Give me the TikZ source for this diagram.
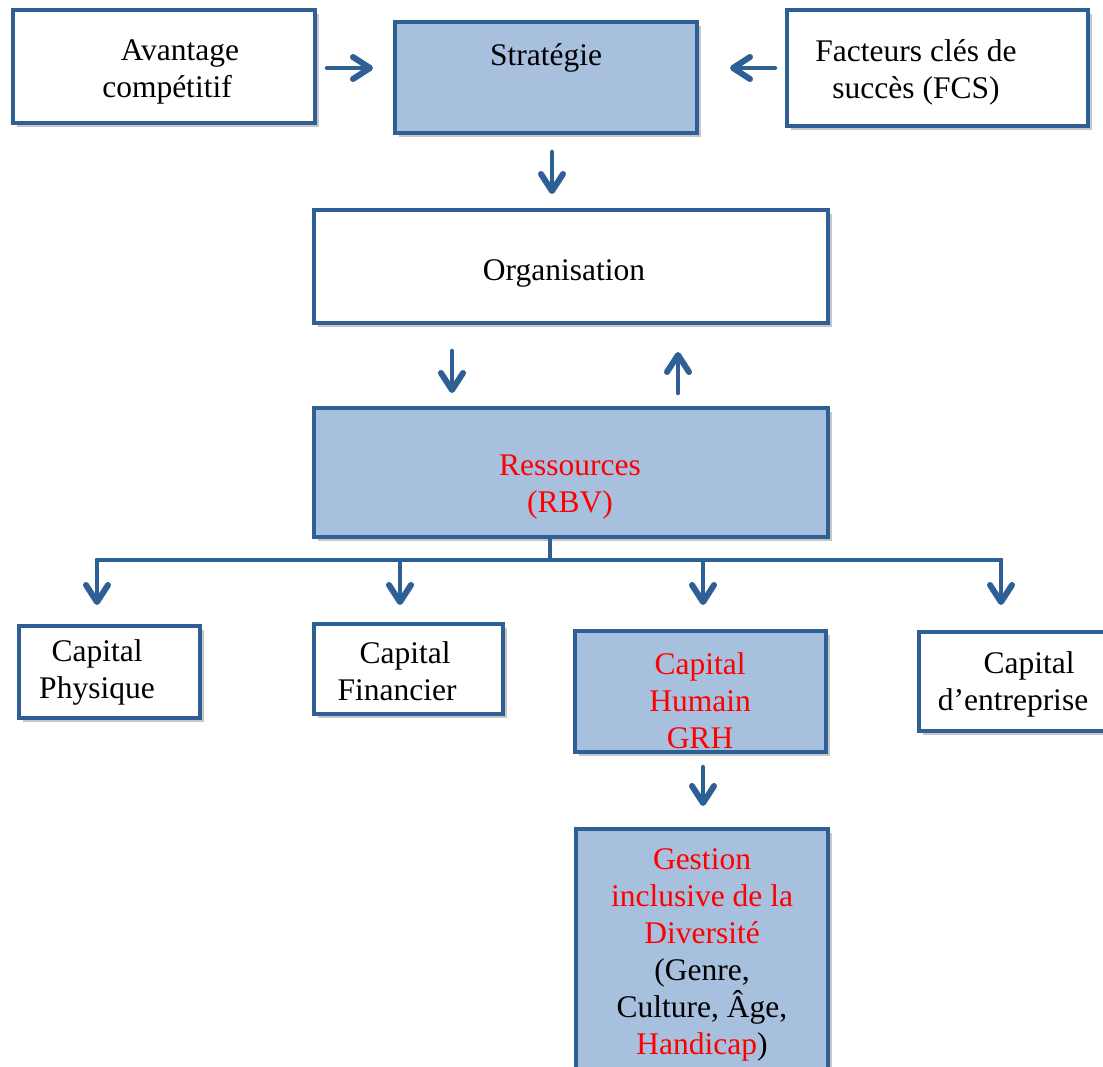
\documentclass[tikz,border=0pt]{standalone}
\usepackage{fontspec}
\setmainfont{Liberation Serif}
\usetikzlibrary{arrows.meta,shadows}
\definecolor{edge}{RGB}{46,96,150}
\definecolor{pane}{RGB}{167,192,222}
\begin{document}
\begin{tikzpicture}[x=1pt,y=-1pt,
  box/.style={draw=edge, line width=4pt, fill=white, inner sep=0pt,
    drop shadow={shadow xshift=4pt, shadow yshift=-4pt, opacity=0.22, fill=black}},
  filled/.style={box, fill=pane},
  txt/.style={font=\fontsize{31.5}{37}\selectfont, align=center, inner sep=0pt},
  arr/.style={draw=edge, line width=4.5pt, line cap=round,
    -{Straight Barb[length=17pt,width=22pt,round,line width=6pt]}},
  wire/.style={draw=edge, line width=4.5pt}]
\useasboundingbox (0,0) rectangle (1103,1066);
\fill[white] (0,0) rectangle (1103,1066);

% top row
\node[box, minimum width=302, minimum height=113] (avant) at (164,66.5) {};
\node[txt] (avant-t) at (180,72) {Avantage\\compétitif\hspace*{26pt}};
\node[filled, minimum width=302, minimum height=111] (strat) at (546,77.5) {};
\node[txt] (strat-t) at (546,58) {Stratégie};
\node[box, minimum width=301, minimum height=116] (fcs) at (937.5,68) {};
\node[txt] (fcs-t) at (916,72) {Facteurs clés de\\succès (FCS)};

% organisation and resources
\node[box, minimum width=514, minimum height=113] (org) at (571,266.5) {};
\node[txt] (org-t) at (564,273) {Organisation};
\node[filled, minimum width=514, minimum height=129] (res) at (571,472.5) {};
\node[txt, text=red] (res-t) at (570,487) {Ressources\\(RBV)};

% capitals
\node[box, minimum width=181, minimum height=92] (phys) at (109.5,672) {};
\node[txt] (phys-t) at (97,672) {Capital\\Physique};
\node[box, minimum width=189, minimum height=90] (fin) at (408.5,669) {};
\node[txt] (fin-t) at (397,671) {\hspace*{16pt}Capital\\Financier};
\node[filled, minimum width=251, minimum height=121] (hum) at (700.5,691.5) {};
\node[txt, text=red] (hum-t) at (700,701) {Capital\\Humain\\GRH};
\node[box, minimum width=222, minimum height=99] (entr) at (1030,681.5) {};
\node[txt] (entr-t) at (1013,684) {\hspace*{32pt}Capital\\d’entreprise};

% diversity management
\node[filled, minimum width=252, minimum height=249] (gest) at (702,953.5) {};
\node[txt] (gest-t) at (702,955) {\textcolor{red}{Gestion}\\\textcolor{red}{inclusive de la}\\\textcolor{red}{Diversité}\\(Genre,\\Culture, Âge,\\\textcolor{red}{Handicap})};

% connectors between the top boxes
\draw[arr, shorten <=10pt, shorten >=20pt] ([yshift=-1.5pt]avant.east) -- ([yshift=-1.5pt]avant.east -| strat.west);
\draw[arr, shorten <=10pt, shorten >=31pt] (fcs.west) -- (fcs.west -| strat.east);
\draw[arr, shorten <=17pt, shorten >=14pt] ([xshift=6pt]strat.south) -- ([xshift=6pt]strat.south |- org.north);

% organisation <-> resources
\draw[arr, shorten <=26pt, shorten >=13pt] ([xshift=-119pt]org.south) -- ([xshift=-119pt]org.south |- res.north);
\draw[arr, shorten <=13pt, shorten >=27pt] ([xshift=107pt]res.north) -- ([xshift=107pt]res.north |- org.south);

% distribution bus from resources to the capitals
\coordinate (jn) at (550,560);
\coordinate (b1) at (97,560);
\coordinate (b2) at (400,560);
\coordinate (b3) at (703,560);
\coordinate (b4) at (1001,560);
\draw[wire] (jn |- res.south) -- (jn);
\draw[wire, line cap=round] (b1) -- (b4);
\draw[arr, shorten >=19pt] (b1) -- (b1 |- phys.north);
\draw[arr, shorten >=17pt] (b2) -- (b2 |- fin.north);
\draw[arr, shorten >=24pt] (b3) -- (b3 |- hum.north);
\draw[arr, shorten >=25pt] (b4) -- (b4 |- entr.north);

% human capital to diversity management
\draw[arr, shorten <=13pt, shorten >=21pt] ([xshift=2.5pt]hum.south) -- ([xshift=2.5pt]hum.south |- gest.north);
\end{tikzpicture}
\end{document}
